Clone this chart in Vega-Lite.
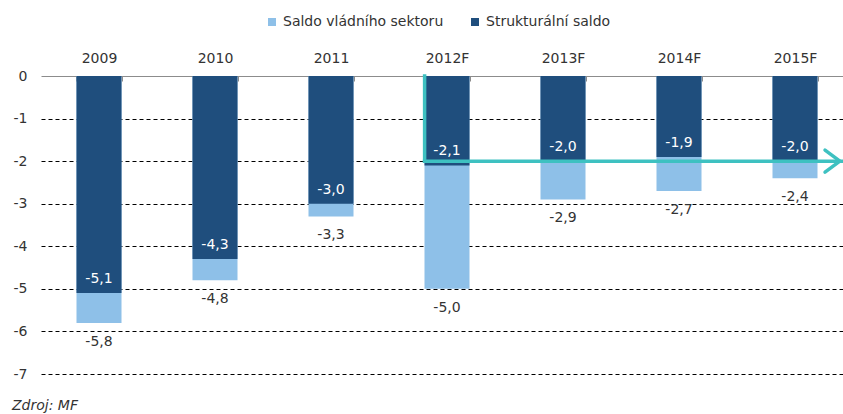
{
  "$schema": "https://vega.github.io/schema/vega-lite/v6.json",
  "width": 812,
  "height": 298,
  "autosize": "none",
  "padding": {"left": 41, "top": 76, "right": 0, "bottom": 40},
  "background": "white",
  "config": {
    "locale": {"number": {"decimal": ",", "thousands": " ", "grouping": [3], "currency": ["", ""], "minus": "-"}},
    "font": "DejaVu Sans",
    "view": {"stroke": null},
    "axis": {"labelFont": "DejaVu Sans", "labelFontSize": 14, "labelColor": "#333333"},
    "legend": {"labelFont": "DejaVu Sans"}
  },
  "title": {"text": "Zdroj: MF", "orient": "bottom", "anchor": "start", "frame": "group", "dx": -29, "offset": 18, "fontStyle": "italic", "fontWeight": "normal", "fontSize": 14, "color": "#333333", "font": "DejaVu Sans"},
  "datasets": {
    "bars": [
      {"year": "2009", "series": "Saldo vládního sektoru", "value": -5.8},
      {"year": "2010", "series": "Saldo vládního sektoru", "value": -4.8},
      {"year": "2011", "series": "Saldo vládního sektoru", "value": -3.3},
      {"year": "2012F", "series": "Saldo vládního sektoru", "value": -5.0},
      {"year": "2013F", "series": "Saldo vládního sektoru", "value": -2.9},
      {"year": "2014F", "series": "Saldo vládního sektoru", "value": -2.7},
      {"year": "2015F", "series": "Saldo vládního sektoru", "value": -2.4},
      {"year": "2009", "series": "Strukturální saldo", "value": -5.1},
      {"year": "2010", "series": "Strukturální saldo", "value": -4.3},
      {"year": "2011", "series": "Strukturální saldo", "value": -3.0},
      {"year": "2012F", "series": "Strukturální saldo", "value": -2.1},
      {"year": "2013F", "series": "Strukturální saldo", "value": -2.0},
      {"year": "2014F", "series": "Strukturální saldo", "value": -1.9},
      {"year": "2015F", "series": "Strukturální saldo", "value": -2.0}
    ],
    "arrow": [
      {"x1": 3.307, "x2": 3.307, "y1": 0, "y2": -2},
      {"x1": 3.307, "x2": 6.9, "y1": -2, "y2": -2}
    ],
    "head": [
      {"x": 6.83, "y": -2}
    ]
  },
  "layer": [
    {
      "data": {"name": "bars"},
      "encoding": {
        "x": {
          "field": "year", "type": "nominal", "sort": null,
          "scale": {"paddingInner": 0.612, "paddingOuter": 0.306},
          "axis": {"orient": "top", "title": null, "labelAngle": 0, "domainColor": "#8c8c8c", "tickColor": "#8c8c8c", "tickBand": "extent", "tickSize": -5, "labelPadding": 16, "grid": false}
        }
      },
      "layer": [
        {
          "mark": {"type": "bar"},
          "encoding": {
            "y": {
              "field": "value", "type": "quantitative", "stack": null,
              "scale": {"domain": [-7, 0], "nice": false},
              "axis": {"title": null, "domain": false, "ticks": false, "labelPadding": 14, "values": [0, -1, -2, -3, -4, -5, -6, -7], "format": "d", "grid": true, "gridColor": "#000000", "gridDash": [4, 3], "gridOpacity": {"condition": {"test": "datum.value === 0", "value": 0}, "value": 1}}
            },
            "color": {
              "field": "series", "type": "nominal",
              "scale": {"domain": ["Saldo vládního sektoru", "Strukturální saldo"], "range": ["#8EC0E8", "#1F4E7D"]},
              "legend": {"title": null, "orient": "none", "legendX": 224, "legendY": -61, "direction": "horizontal", "symbolType": "square", "symbolSize": 64, "symbolStrokeWidth": 0, "labelFontSize": 14, "labelColor": "#333333", "labelLimit": 400, "columnPadding": 24, "labelOffset": 4}
            }
          }
        },
        {
          "transform": [{"filter": "datum.series === 'Saldo vládního sektoru'"}],
          "mark": {"type": "text", "baseline": "alphabetic", "dy": 23, "fontSize": 14, "color": "#333333", "font": "DejaVu Sans"},
          "encoding": {
            "y": {"field": "value", "type": "quantitative"},
            "text": {"field": "value", "type": "quantitative", "format": ".1f"}
          }
        },
        {
          "transform": [{"filter": "datum.series === 'Strukturální saldo'"}],
          "mark": {"type": "text", "baseline": "alphabetic", "dy": -10, "fontSize": 14, "color": "#ffffff", "font": "DejaVu Sans"},
          "encoding": {
            "y": {"field": "value", "type": "quantitative"},
            "text": {"field": "value", "type": "quantitative", "format": ".1f"}
          }
        }
      ]
    },
    {
      "layer": [
        {
          "data": {"name": "arrow"},
          "mark": {"type": "rule", "color": "#3EC1C1", "strokeWidth": 3.5, "strokeCap": "square"},
          "encoding": {
            "x": {"field": "x1", "type": "quantitative", "scale": {"domain": [0, 7], "nice": false, "zero": false}, "axis": null},
            "x2": {"field": "x2"},
            "y": {"field": "y1", "type": "quantitative"},
            "y2": {"field": "y2"}
          }
        },
        {
          "data": {"name": "head"},
          "mark": {"type": "point", "shape": "M-0.75,-1L0.6,0L-0.75,1", "filled": false, "size": 484, "stroke": "#3EC1C1", "strokeWidth": 3.5, "strokeCap": "round", "strokeJoin": "round", "opacity": 1},
          "encoding": {
            "x": {"field": "x", "type": "quantitative", "scale": {"domain": [0, 7], "nice": false, "zero": false}, "axis": null},
            "y": {"field": "y", "type": "quantitative"}
          }
        }
      ]
    }
  ],
  "resolve": {"scale": {"x": "independent"}}
}
